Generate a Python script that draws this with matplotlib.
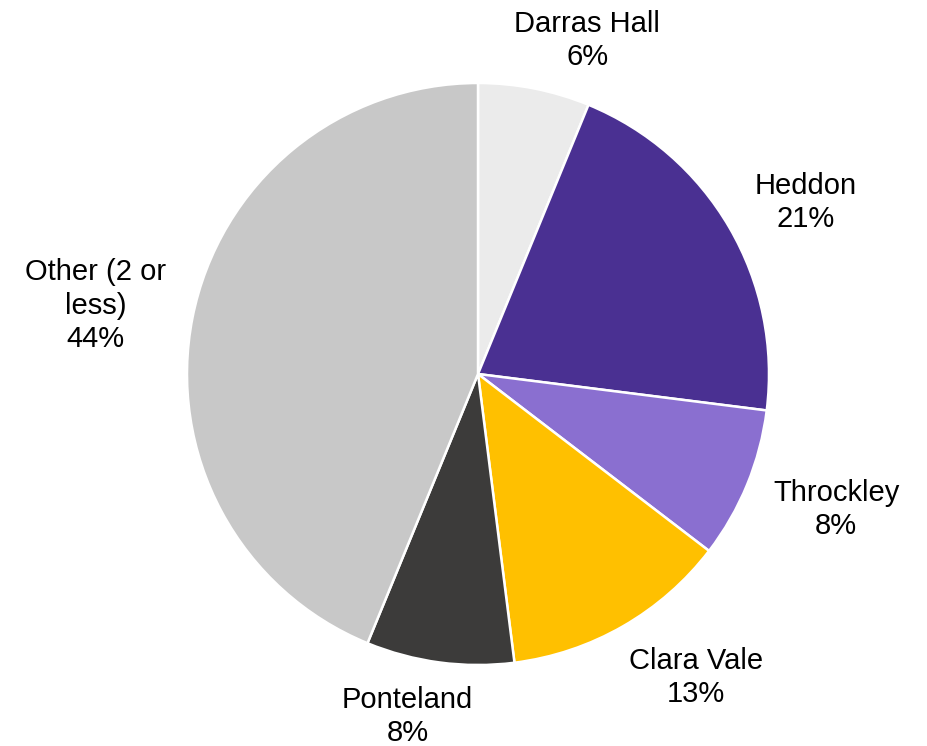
import numpy as np
import matplotlib
matplotlib.use("Agg")
import matplotlib.pyplot as plt

plt.rcParams['font.family'] = ['Liberation Sans', 'DejaVu Sans']

categories = ["Darras Hall", "Heddon", "Throckley", "Clara Vale", "Ponteland", "Other (2 or\nless)"]
values = [6.2, 20.8, 8.4, 12.6, 8.2, 43.8]
colors = ["#EBEBEB", "#4A3092", "#8A6FD0", "#FFC000", "#3C3B3A", "#C8C8C8"]
# label offsets (pixels) from the wedge edge midpoint
label_offsets = [(53, 48), (76, 25), (89, -25), (73, -51), (-32, -54), (-97, 12)]

W, H = 928, 746
cx, cy, R = 478, 374, 291
fig = plt.figure(figsize=(W / 100, H / 100), dpi=100)
ax = fig.add_axes([0, 0, 1, 1])

wedges, _ = ax.pie(values, colors=colors, startangle=90, counterclock=False,
                   radius=1, center=(0, 0), frame=True,
                   wedgeprops=dict(edgecolor='white', linewidth=1.8))
ax.set_xlim(-cx / R, (W - cx) / R)
ax.set_ylim(-(H - cy) / R, cy / R)
ax.set_aspect('equal')
ax.axis('off')

total = sum(values)
for w, cat, v, off in zip(wedges, categories, values, label_offsets):
    ang = np.deg2rad((w.theta1 + w.theta2) / 2)
    x, y = np.cos(ang), np.sin(ang)
    pct = f"{round(100 * v / total)}%"
    ax.annotate(f"{cat}\n{pct}", xy=(x, y), xytext=off, textcoords='offset pixels',
                ha='center', va='center', fontsize=21, linespacing=1.25, color='black')

fig.savefig("out.png", dpi=100)
